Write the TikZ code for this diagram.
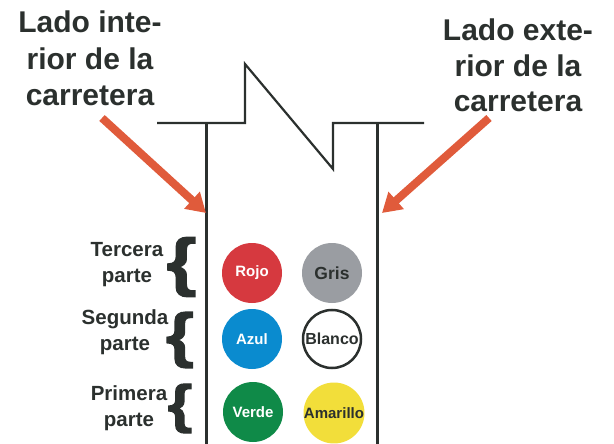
\documentclass[tikz,border=0pt]{standalone}
\usepackage{fontspec}
\setmainfont{Liberation Sans}
\newfontfamily\heavybrace[FakeBold=2]{Liberation Sans Bold}
\usetikzlibrary{arrows.meta}
\definecolor{ink}{HTML}{2B302E}
\definecolor{arrowred}{HTML}{E05B3B}
\definecolor{rojo}{HTML}{D6393F}
\definecolor{gris}{HTML}{9A9DA2}
\definecolor{azul}{HTML}{0A8BCF}
\definecolor{verde}{HTML}{0F8A48}
\definecolor{amarillo}{HTML}{F2DE3A}
\tikzset{
  bigtxt/.style={font=\fontsize{30}{36}\selectfont\bfseries, text=ink, anchor=base, inner sep=0pt},
  parttxt/.style={font=\fontsize{20.5}{25}\selectfont\bfseries, text=ink, anchor=base, inner sep=0pt},
  road/.style={draw=ink, line width=2.2pt},
  pointer/.style={draw=arrowred, line width=8pt, -{Triangle[length=19pt,width=22pt]}},
  dot/.style={circle, minimum size=60pt, inner sep=0pt, font=\fontsize{15}{15}\selectfont\bfseries},
  bracetxt/.style={inner sep=0pt, text=ink, xscale=1.2, transform shape}
}
\begin{document}
\begin{tikzpicture}[x=1pt,y=-1pt]
\useasboundingbox (0,0) rectangle (614,444);
% road outline
\draw[road] (157,123) -- (245,123) -- (245,64) -- (333,169) -- (333,123) -- (424,123);
\draw[road] (206.5,123) -- (206.5,444);
\draw[road] (377.5,123) -- (377.5,444);
% top labels
\node[bigtxt] (l1) at (90,33) {Lado inte-};
\node[bigtxt] (l2) at (90,70) {rior de la};
\node[bigtxt] (l3) at (90,106) {carretera};
\node[bigtxt] (r1) at (518,41) {Lado exte-};
\node[bigtxt] (r2) at (518,77) {rior de la};
\node[bigtxt] (r3) at (518,112) {carretera};
% arrows
\coordinate (la) at (102,118);
\coordinate (lb) at (206,213);
\coordinate (ra) at (489,118);
\coordinate (rb) at (382,213);
\draw[pointer] (la) -- (lb);
\draw[pointer] (ra) -- (rb);
% part labels
\node[parttxt] (t1) at (127,256) {Tercera};
\node[parttxt] (t2) at (127,282) {parte};
\node[parttxt] (s1) at (125,324) {Segunda};
\node[parttxt] (s2) at (125,350) {parte};
\node[parttxt] (p1) at (129,400) {Primera};
\node[parttxt] (p2) at (129,426) {parte};
% braces
\node[bracetxt, font=\fontsize{64}{64}\selectfont\heavybrace] (b1) at (181.5,267) {\{};
\node[bracetxt, font=\fontsize{60}{60}\selectfont\heavybrace] (b2) at (180,340) {\{};
\node[bracetxt, font=\fontsize{53}{53}\selectfont\heavybrace] (b3) at (180,408.5) {\{};
% circles
\node[dot, fill=rojo, text=white] (rojo) at (252,273) {Rojo};
\node[dot, fill=gris, text=ink, font=\fontsize{17.5}{17.5}\selectfont\bfseries] (gris) at (332,273) {Gris};
\node[dot, fill=azul, text=white] (azul) at (252,339) {Azul};
\node[dot, draw=ink, line width=2.5pt, minimum size=58pt, fill=white, text=ink, font=\fontsize{16}{16}\selectfont\bfseries] (blanco) at (332,339) {Blanco};
\node[dot, fill=verde, text=white] (verde) at (253,412) {Verde};
\node[dot, fill=amarillo, text=ink] (amarillo) at (334,413) {Amarillo};
\end{tikzpicture}
\end{document}
